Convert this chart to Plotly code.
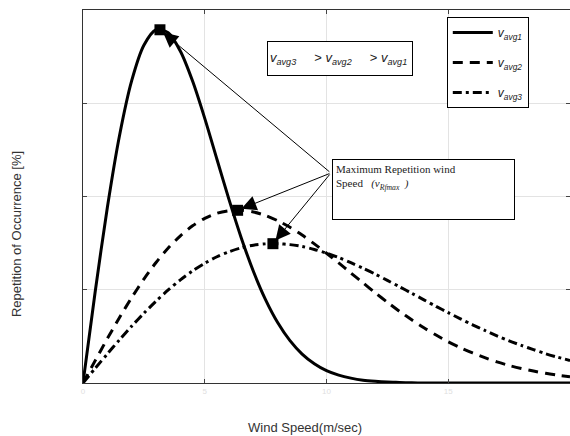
import plotly.graph_objects as go

# Wind speed (m/s)
wind_speed = [0, 0.5, 1, 1.5, 2, 2.5, 3, 3.5, 4, 4.5, 5, 5.5, 6, 6.5, 7, 7.5, 8, 8.5, 9, 9.5,
              10, 10.5, 11, 11.5, 12, 12.5, 13, 13.5, 14, 14.5, 15, 15.5, 16, 16.5, 17, 17.5,
              18, 18.5, 19, 19.5, 20]

# Repetition of occurrence (fraction)
f_avg1 = [0, 0.0489, 0.0941, 0.1327, 0.1621, 0.1811, 0.1894, 0.1878, 0.1779, 0.1619, 0.1419,
          0.1200, 0.0982, 0.0778, 0.0598, 0.0446, 0.0323, 0.0227, 0.0155, 0.0103, 0.0066,
          0.0042, 0.0026, 0.0015, 0.0009, 0.0005, 0.0003, 0.0001, 0, 0, 0, 0, 0, 0, 0, 0,
          0, 0, 0, 0, 0]
f_avg2 = [0, 0.0120, 0.0238, 0.0351, 0.0458, 0.0557, 0.0646, 0.0724, 0.0789, 0.0843, 0.0883,
          0.0910, 0.0924, 0.0926, 0.0917, 0.0898, 0.0870, 0.0835, 0.0793, 0.0746, 0.0696,
          0.0644, 0.0590, 0.0537, 0.0484, 0.0433, 0.0384, 0.0339, 0.0296, 0.0257, 0.0221,
          0.0189, 0.0161, 0.0136, 0.0113, 0.0094, 0.0078, 0.0064, 0.0052, 0.0042, 0.0034]
f_avg3 = [0, 0.0079, 0.0156, 0.0232, 0.0305, 0.0374, 0.0439, 0.0499, 0.0553, 0.0601, 0.0642,
          0.0677, 0.0704, 0.0725, 0.0739, 0.0746, 0.0747, 0.0742, 0.0732, 0.0716, 0.0696,
          0.0673, 0.0645, 0.0615, 0.0584, 0.0550, 0.0516, 0.0481, 0.0446, 0.0411, 0.0377,
          0.0344, 0.0312, 0.0282, 0.0253, 0.0226, 0.0202, 0.0179, 0.0157, 0.0138, 0.0121]

# Maximum repetition wind speed points
peak_v = [3.16, 6.35, 7.8]
peak_f = [0.1894, 0.0926, 0.0747]

series_names = ["<i>v</i><sub><i>avg1</i></sub>",
                "<i>v</i><sub><i>avg2</i></sub>",
                "<i>v</i><sub><i>avg3</i></sub>"]
x_ticks = [0, 5, 10, 15, 20]
y_ticks = [0, 0.05, 0.10, 0.15, 0.20]

fig = go.Figure()
styles = ["solid", "10px,7px", "9px,4px,3px,4px"]
for name, ys, dash, grp in zip(series_names, [f_avg1, f_avg2, f_avg3], styles, ["a", "b", "c"]):
    fig.add_trace(go.Scatter(x=wind_speed, y=ys, mode="lines", name=name, legendgroup=grp,
                             line=dict(color="black", width=3, dash=dash, shape="spline",
                                       smoothing=0.8)))

fig.add_trace(go.Scatter(x=peak_v, y=peak_f, mode="markers", showlegend=False,
                         marker=dict(symbol="square", size=11, color="black")))

# arrows from the annotation box to peaks
tail_x, tail_y = 10.18, 0.1126
for vx, fy in zip(peak_v, peak_f):
    fig.add_annotation(x=vx, y=fy, xref="x", yref="y", ax=tail_x, ay=tail_y,
                       axref="x", ayref="y", text="", showarrow=True, arrowhead=2,
                       arrowsize=3, arrowwidth=1, arrowcolor="black", standoff=4)

fig.add_annotation(xref="paper", yref="paper", x=0.699, y=0.519, xanchor="center",
                   yanchor="middle",
                   text="Maximum Repetition wind<br>Speed&nbsp;&nbsp;&nbsp;<i>(v</i><sub><i>Rfmax</i></sub>&nbsp;&nbsp;<i>)</i>",
                   font=dict(family="Liberation Serif", size=11, color="#222"),
                   align="left", valign="top", width=175, height=53, borderpad=3,
                   bordercolor="black", borderwidth=1, bgcolor="white", showarrow=False)

fig.add_annotation(xref="paper", yref="paper", x=0.528, y=0.870, xanchor="center",
                   yanchor="middle",
                   text="<i>v</i><sub><i>avg3</i></sub>&nbsp;&nbsp;&nbsp;&nbsp;&nbsp;&gt; <i>v</i><sub><i>avg2</i></sub>&nbsp;&nbsp;&nbsp;&nbsp;&nbsp;&gt; <i>v</i><sub><i>avg1</i></sub>",
                   font=dict(family="Liberation Sans", size=13, color="#222"),
                   align="left", width=140, height=29, borderpad=2,
                   bordercolor="black", borderwidth=1, bgcolor="white", showarrow=False)

fig.add_annotation(xref="paper", yref="paper", x=(305 - 83) / 487, y=-0.12,
                   xanchor="center", yanchor="middle", text="Wind Speed(m/sec)",
                   font=dict(family="Liberation Sans", size=13, color="#333"), showarrow=False)
fig.add_annotation(xref="paper", yref="paper", x=-0.135, y=0.40, textangle=-90,
                   xanchor="center", yanchor="middle", text="Repetition of Occurrence [%]",
                   font=dict(family="Liberation Sans", size=13, color="#333"), showarrow=False)

fig.update_layout(
    width=570, height=436,
    margin=dict(l=83, r=0, t=10, b=53),
    paper_bgcolor="white", plot_bgcolor="white",
    font=dict(family="Liberation Sans", color="#222"),
    legend=dict(x=0.747, y=0.981, xanchor="left", yanchor="top",
                bordercolor="black", borderwidth=1, bgcolor="white",
                font=dict(size=12, color="#222"), tracegroupgap=11,
                itemwidth=40),
    xaxis=dict(range=[0, 20], tickvals=x_ticks, ticks="inside", ticklen=4,
               showline=True, mirror="ticks", linecolor="#333", linewidth=1,
               showgrid=True, gridcolor="#e3e3e3", gridwidth=1, zeroline=False,
               tickfont=dict(size=8, color="#e0e0e0")),
    yaxis=dict(range=[0, 0.2], tickvals=y_ticks, ticks="inside", ticklen=4,
               showline=True, mirror="ticks", linecolor="#333", linewidth=1,
               showgrid=True, gridcolor="#e3e3e3", gridwidth=1, zeroline=False,
               showticklabels=False),
)

fig.write_html("out.html")
